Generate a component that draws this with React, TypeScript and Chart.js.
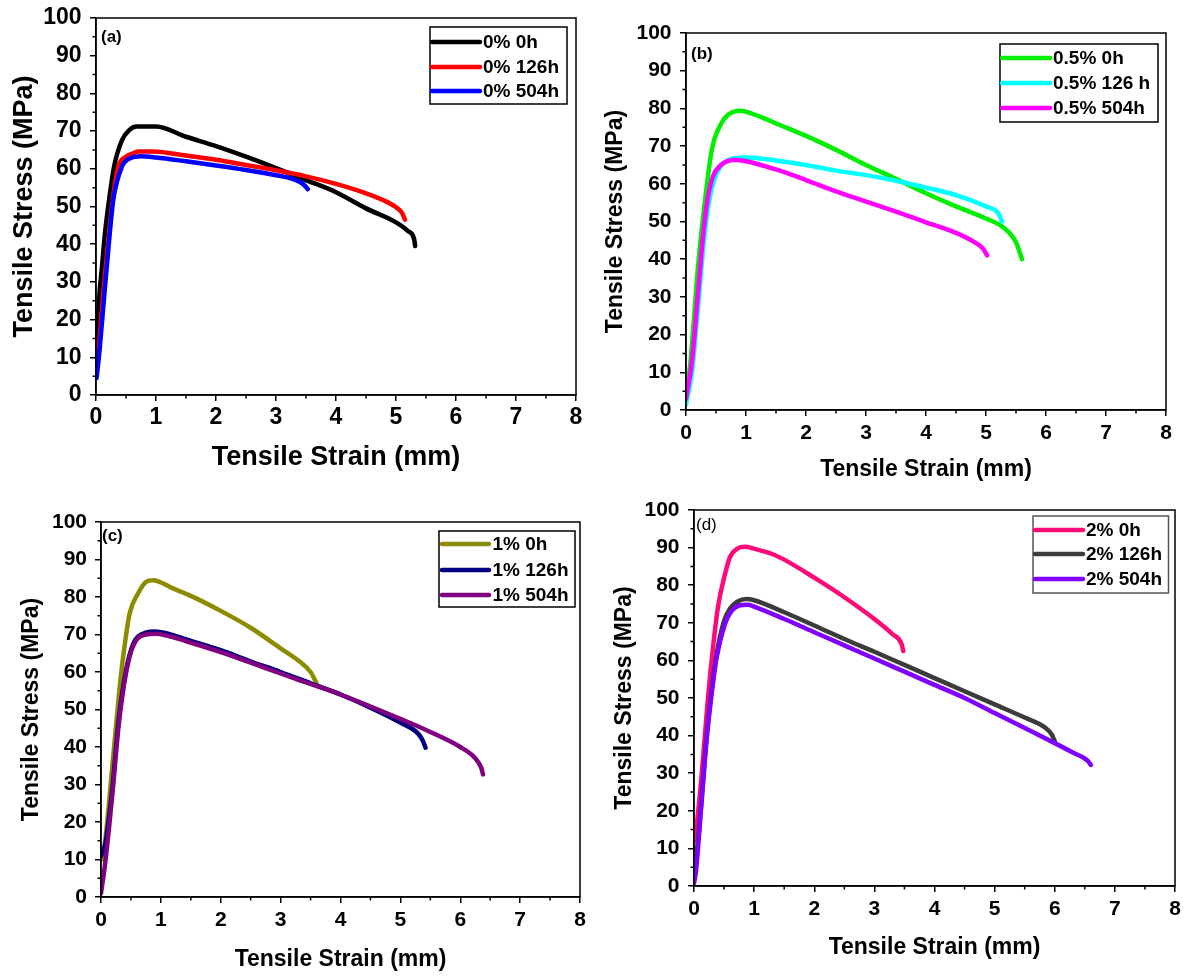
import React, { useEffect, useRef } from 'react';
import { Chart, registerables } from 'chart.js';

Chart.register(...registerables);

type Pt = [number, number];

const FONT = '"Liberation Sans", Arial, Helvetica, sans-serif';

// ---- axis ticks ----
const xMin = 0;
const xMax = 8;
const xStep = 1;
const yMin = 0;
const yMax = 100;
const yStep = 10;
const xTitle = 'Tensile Strain (mm)';
const yTitle = 'Tensile Stress (MPa)';

// ---- panel (a) 0% ----
const labelsA = ['0% 0h', '0% 126h', '0% 504h'];
const a0h: Pt[] = [[0.01, 9], [0.05, 25], [0.1, 34], [0.15, 43], [0.22, 52], [0.3, 60.5], [0.43, 67.5], [0.55, 70.2], [0.68, 71.2], [1.0, 71.2], [1.5, 68.5], [2, 66], [2.5, 63.2], [3, 60.2], [3.5, 57], [4, 53.8], [4.5, 49.5], [5, 45.8], [5.2, 43.5], [5.3, 41.5], [5.32, 39.5]];
const a126h: Pt[] = [[0.02, 8.5], [0.06, 15], [0.11, 25], [0.22, 43], [0.28, 52], [0.37, 60.5], [0.5, 63.2], [0.6, 64], [0.7, 64.6], [0.95, 64.6], [1.5, 63.5], [2, 62.4], [2.5, 61], [3, 59.6], [3.5, 58], [4, 56], [4.5, 53.5], [4.8, 51.6], [5, 49.8], [5.1, 48.3], [5.15, 46.5]];
const a504h: Pt[] = [[0.01, 4.5], [0.06, 12], [0.13, 25], [0.23, 43], [0.29, 52], [0.43, 60.5], [0.57, 62.8], [0.75, 63.3], [1, 63], [1.5, 62], [2, 60.9], [2.5, 59.7], [3, 58.3], [3.3, 57.2], [3.45, 56], [3.53, 54.6]];

// ---- panel (b) 0.5% ----
const labelsB = ['0.5% 0h', '0.5% 126 h', '0.5% 504h'];
const b0h: Pt[] = [[0.01, 5], [0.07, 12], [0.2, 38], [0.32, 56], [0.43, 69], [0.57, 75.5], [0.7, 78.3], [0.9, 79.4], [1.2, 78], [1.5, 76], [2, 72.7], [2.5, 69], [3, 65], [3.5, 61.3], [4, 57.5], [4.5, 54], [5, 50.8], [5.3, 48.3], [5.5, 44.5], [5.6, 40]];
const b126h: Pt[] = [[0, 1.5], [0.1, 10], [0.2, 27], [0.3, 45], [0.38, 55], [0.47, 61], [0.6, 65], [0.8, 66.8], [1, 67], [1.5, 66.2], [2, 65], [2.5, 63.5], [3, 62.3], [3.5, 60.8], [4, 59], [4.5, 57], [5, 54], [5.2, 52.3], [5.27, 50]];
const b504h: Pt[] = [[0, 3], [0.1, 13], [0.2, 31], [0.29, 47], [0.36, 56], [0.45, 62], [0.57, 64.8], [0.8, 66.3], [1, 66], [1.5, 63.8], [2, 61], [2.5, 58], [3, 55.3], [3.5, 52.6], [4, 49.8], [4.5, 47], [4.8, 44.6], [4.95, 42.8], [5.02, 41]];

// ---- panel (c) 1% ----
const labelsC = ['1% 0h', '1% 126h', '1% 504h'];
const c0h: Pt[] = [[0.02, 10], [0.07, 15], [0.15, 28], [0.25, 45.5], [0.33, 58.7], [0.4, 67.7], [0.48, 75.7], [0.62, 81], [0.75, 84], [0.87, 84.5], [1.2, 82.3], [1.5, 80.3], [2, 76.3], [2.5, 71.8], [3, 66.3], [3.3, 63], [3.5, 60], [3.6, 57]];
const c126h: Pt[] = [[0, 11], [0.07, 14], [0.19, 29], [0.29, 46.5], [0.36, 55], [0.46, 63.5], [0.57, 68.5], [0.75, 70.5], [0.9, 70.8], [1.5, 68.3], [2, 65.8], [2.5, 62.8], [3, 60], [3.5, 57], [4, 54], [4.5, 50.5], [5, 46.5], [5.3, 43.5], [5.38, 41.5], [5.42, 39.8]];
const c504h: Pt[] = [[0, 1], [0.07, 9], [0.19, 27.5], [0.29, 45], [0.36, 54], [0.46, 63], [0.57, 68], [0.75, 70], [0.9, 70.2], [1.5, 67.8], [2, 65.3], [2.5, 62.5], [3, 59.6], [3.5, 56.8], [4, 54], [4.5, 50.8], [5, 47.5], [5.5, 44], [6, 40], [6.25, 37], [6.35, 34.5], [6.38, 32.7]];

// ---- panel (d) 2% ----
const labelsD = ['2% 0h', '2% 126h', '2% 504h'];
const d0h: Pt[] = [[0, 12], [0.05, 17], [0.13, 30], [0.22, 47.7], [0.3, 61], [0.4, 74.3], [0.52, 83.2], [0.6, 87.5], [0.72, 89.7], [0.85, 90.2], [1, 89.7], [1.3, 88.3], [1.5, 86.8], [2, 82], [2.5, 76.8], [3, 71], [3.3, 67], [3.45, 64.5], [3.48, 62.5]];
const d126h: Pt[] = [[0, 5], [0.03, 7], [0.12, 22], [0.21, 40], [0.3, 53], [0.38, 62], [0.5, 70.5], [0.6, 73.8], [0.72, 75.6], [0.87, 76.3], [1, 76], [1.5, 72.8], [2, 69.3], [2.5, 65.7], [3, 62.3], [3.5, 58.8], [4, 55.3], [4.5, 51.8], [5, 48.3], [5.5, 44.8], [5.85, 42], [5.95, 40.3], [6, 38.5]];
const d504h: Pt[] = [[0, 0.8], [0.03, 3.5], [0.12, 21], [0.21, 38.8], [0.3, 52], [0.38, 61], [0.52, 69.9], [0.62, 73], [0.75, 74.6], [0.9, 74.8], [1, 74.3], [1.5, 71], [2, 67.5], [2.5, 64], [3, 60.5], [3.5, 57], [4, 53.5], [4.5, 50], [5, 46], [5.5, 42], [6, 38], [6.3, 35.5], [6.55, 33.3], [6.6, 32.2]];

interface Panel {
  tag: string;
  tagBold: boolean;
  labels: string[];
  data: Pt[][];
  colors: string[];
  legendBorder: string;
  canvas: { left: number; top: number; w: number; h: number };
  area: { left: number; right: number; top: number; bottom: number };
  tickSize: number;
  titleSize: number;
  yTitleX: number;
  xTitleY: number;
  yLabelRight: number;
  xLabelY: number;
  legendBox: { x1: number; y1: number; x2: number; y2: number };
  legendRows: number[];
  legendLine: [number, number];
  legendText: number;
  tagPos: [number, number];
}

const panels: Panel[] = [
  {
    tag: '(a)', tagBold: true, labels: labelsA, data: [a0h, a126h, a504h],
    colors: ['#000000', '#ff0000', '#0000ff'], legendBorder: '#000',
    canvas: { left: 0, top: 0, w: 595, h: 488 },
    area: { left: 96, right: 576, top: 18, bottom: 395 },
    tickSize: 23, titleSize: 27, yTitleX: 24.5, xTitleY: 458, yLabelRight: 81.5, xLabelY: 418,
    legendBox: { x1: 430, y1: 27, x2: 567, y2: 104 }, legendRows: [42, 67, 91], legendLine: [431, 480], legendText: 483,
    tagPos: [101, 37],
  },
  {
    tag: '(b)', tagBold: true, labels: labelsB, data: [b0h, b126h, b504h],
    colors: ['#00ee00', '#00ffff', '#ff00ff'], legendBorder: '#000',
    canvas: { left: 595, top: 0, w: 594, h: 488 },
    area: { left: 686, right: 1166, top: 33, bottom: 410 },
    tickSize: 21, titleSize: 23, yTitleX: 616, xTitleY: 470, yLabelRight: 671.5, xLabelY: 433,
    legendBox: { x1: 1000, y1: 44, x2: 1158, y2: 122 }, legendRows: [58, 83, 108], legendLine: [1001, 1050], legendText: 1053,
    tagPos: [691, 54],
  },
  {
    tag: '(c)', tagBold: true, labels: labelsC, data: [c0h, c126h, c504h],
    colors: ['#8c8c00', '#000080', '#800080'], legendBorder: '#000',
    canvas: { left: 0, top: 488, w: 595, h: 489 },
    area: { left: 101, right: 580, top: 522, bottom: 897 },
    tickSize: 21, titleSize: 23, yTitleX: 31.5, xTitleY: 960, yLabelRight: 87, xLabelY: 920,
    legendBox: { x1: 439, y1: 531, x2: 575, y2: 607 }, legendRows: [544, 570, 595], legendLine: [441, 489], legendText: 492.5,
    tagPos: [102, 536],
  },
  {
    tag: '(d)', tagBold: false, labels: labelsD, data: [d0h, d126h, d504h],
    colors: ['#ff0a78', '#3c3c3c', '#8000ff'], legendBorder: '#555',
    canvas: { left: 595, top: 488, w: 594, h: 489 },
    area: { left: 694, right: 1175, top: 510, bottom: 886 },
    tickSize: 21, titleSize: 23, yTitleX: 624.5, xTitleY: 948, yLabelRight: 679.5, xLabelY: 909,
    legendBox: { x1: 1033, y1: 516, x2: 1168.5, y2: 593 }, legendRows: [530, 554, 579], legendLine: [1034, 1083], legendText: 1086,
    tagPos: [696, 525],
  },
];

const TICK_LEN = 6;
const MINOR_LEN = 3.5;

function buildChart(canvas: HTMLCanvasElement, p: Panel): Chart {
  const cx = p.canvas.left;
  const cy = p.canvas.top;
  const aLeft = p.area.left - cx;
  const aRight = p.area.right - cx;
  const aTop = p.area.top - cy;
  const aBottom = p.area.bottom - cy;
  const yWidth = aLeft;
  const xHeight = p.canvas.h - aBottom;
  const titleHalf = (p.titleSize * 1.2) / 2;
  const tickHalf = (p.tickSize * 1.2) / 2;
  const yTitlePad = p.yTitleX - cx - titleHalf;
  const xTitlePad = p.canvas.h - titleHalf - (p.xTitleY - cy);
  const yTickPad = aLeft - TICK_LEN - (p.yLabelRight - cx);
  const xTickPad = p.xLabelY - p.area.bottom - TICK_LEN - tickHalf;

  const deco = {
    id: 'deco' + p.tag,
    afterDraw(chart: any) {
      const { ctx, chartArea } = chart;
      const { left, right, top, bottom } = chartArea;
      const xs = chart.scales.x;
      const ys = chart.scales.y;
      ctx.save();
      ctx.strokeStyle = '#000';
      ctx.lineWidth = 1.5;
      ctx.strokeRect(left, top, right - left, bottom - top);
      ctx.beginPath();
      for (let v = yMin + yStep / 2; v < yMax; v += yStep) {
        const py = ys.getPixelForValue(v);
        ctx.moveTo(left - MINOR_LEN, py);
        ctx.lineTo(left, py);
      }
      for (let v = xMin + xStep / 2; v < xMax; v += xStep) {
        const px = xs.getPixelForValue(v);
        ctx.moveTo(px, bottom);
        ctx.lineTo(px, bottom + MINOR_LEN);
      }
      ctx.stroke();

      // panel tag
      ctx.fillStyle = '#000';
      ctx.font = `${p.tagBold ? 'bold ' : ''}17px ${FONT}`;
      ctx.textAlign = 'left';
      ctx.textBaseline = 'middle';
      ctx.fillText(p.tag, p.tagPos[0] - cx, p.tagPos[1] - cy);

      // legend
      const b = p.legendBox;
      ctx.fillStyle = '#fff';
      ctx.fillRect(b.x1 - cx, b.y1 - cy, b.x2 - b.x1, b.y2 - b.y1);
      ctx.strokeStyle = p.legendBorder;
      ctx.lineWidth = 1.5;
      ctx.strokeRect(b.x1 - cx, b.y1 - cy, b.x2 - b.x1, b.y2 - b.y1);
      ctx.font = `bold 19px ${FONT}`;
      p.labels.forEach((lab, i) => {
        const ry = p.legendRows[i] - cy;
        ctx.strokeStyle = p.colors[i];
        ctx.lineWidth = 4.5;
        ctx.lineCap = 'round';
        ctx.beginPath();
        ctx.moveTo(p.legendLine[0] - cx + 1, ry);
        ctx.lineTo(p.legendLine[1] - cx, ry);
        ctx.stroke();
        ctx.fillStyle = '#000';
        ctx.fillText(lab, p.legendText - cx, ry + 1);
      });
      ctx.restore();
    },
  };

  const tickFont = { family: FONT, size: p.tickSize, weight: 'bold' as const };
  const titleFont = { family: FONT, size: p.titleSize, weight: 'bold' as const };
  const grid = {
    display: true,
    drawOnChartArea: false,
    drawTicks: true,
    tickLength: TICK_LEN,
    color: '#000',
    lineWidth: 1.5,
  };

  return new Chart(canvas, {
    type: 'line',
    data: {
      datasets: p.data.map((d, i) => ({
        label: p.labels[i],
        data: d.map(([x, y]) => ({ x, y })),
        borderColor: p.colors[i],
        backgroundColor: p.colors[i],
        borderWidth: 4.5,
        pointRadius: 0,
        fill: false,
        cubicInterpolationMode: 'monotone' as const,
        borderCapStyle: 'round' as const,
        borderJoinStyle: 'round' as const,
        order: 10 - i,
      })),
    },
    options: {
      responsive: false,
      maintainAspectRatio: false,
      animation: false,
      devicePixelRatio: 1,
      layout: {
        padding: { left: 0, top: aTop, right: p.canvas.w - aRight, bottom: 0 },
      },
      plugins: {
        legend: { display: false },
        tooltip: { enabled: false },
        title: { display: false },
      },
      scales: {
        x: {
          type: 'linear',
          min: xMin,
          max: xMax,
          afterFit: (s: any) => {
            s.height = xHeight;
            s.paddingLeft = 0;
            s.paddingRight = 0;
          },
          ticks: {
            stepSize: xStep,
            padding: xTickPad,
            color: '#000',
            font: tickFont,
            maxRotation: 0,
            callback: (v: any) => String(v),
          },
          grid,
          border: { display: true, color: '#000', width: 1.5 },
          title: {
            display: true,
            text: xTitle,
            color: '#000',
            font: titleFont,
            padding: { top: 0, bottom: xTitlePad },
          },
        },
        y: {
          type: 'linear',
          min: yMin,
          max: yMax,
          afterFit: (s: any) => {
            s.width = yWidth;
            s.paddingTop = 0;
            s.paddingBottom = 0;
          },
          ticks: {
            stepSize: yStep,
            padding: yTickPad,
            color: '#000',
            font: tickFont,
            callback: (v: any) => String(v),
          },
          grid,
          border: { display: true, color: '#000', width: 1.5 },
          title: {
            display: true,
            text: yTitle,
            color: '#000',
            font: titleFont,
            padding: { top: yTitlePad, bottom: 0 },
          },
        },
      },
    },
    plugins: [deco],
  } as any);
}

function PanelChart({ p }: { p: Panel }) {
  const ref = useRef<HTMLCanvasElement | null>(null);
  useEffect(() => {
    if (!ref.current) return;
    const chart = buildChart(ref.current, p);
    return () => chart.destroy();
  }, [p]);
  return (
    <canvas
      ref={ref}
      width={p.canvas.w}
      height={p.canvas.h}
      style={{
        position: 'absolute',
        left: p.canvas.left,
        top: p.canvas.top,
        width: p.canvas.w,
        height: p.canvas.h,
      }}
    />
  );
}

export default function App() {
  return (
    <div
      style={{
        position: 'absolute',
        left: 0,
        top: 0,
        width: 1189,
        height: 977,
        background: '#fff',
        overflow: 'hidden',
      }}
    >
      {panels.map((p) => (
        <PanelChart key={p.tag} p={p} />
      ))}
    </div>
  );
}
